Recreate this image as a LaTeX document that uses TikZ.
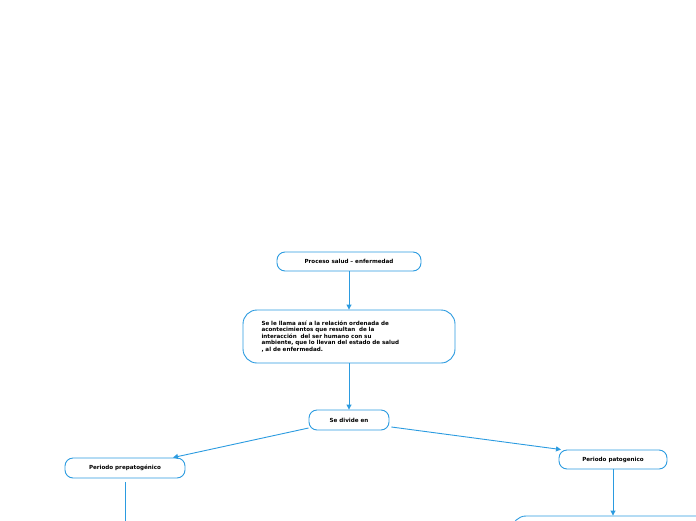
\documentclass[tikz,border=0pt]{standalone}
\usepackage{fontspec}
\setmainfont{DejaVu Sans}
\usetikzlibrary{arrows.meta}
\definecolor{bl}{HTML}{2B9BE0}
\tikzset{box/.style={draw=bl,line width=0.9pt,rounded corners=8pt,fill=white,font=\bfseries\fontsize{5.6}{6.6}\selectfont,inner sep=0pt},
con/.style={draw=bl,line width=0.9pt,-{Triangle[length=5pt,width=5pt]}}}
\begin{document}
\begin{tikzpicture}[x=1pt,y=-1pt]
\useasboundingbox (0,0) rectangle (696,520);
\clip (0,0) rectangle (696,520);
\node[box,minimum width=144pt,minimum height=19pt] (a) at (349,261.5) {Proceso salud – enfermedad};
\node[box,minimum width=212pt,minimum height=53pt,rounded corners=14pt,align=left,text width=175pt] (b) at (349,336.5) {Se le llama así a la relación ordenada de\\ acontecimientos que resultan \ de la\\interacción \ del ser humano con su\\ambiente, que lo llevan del estado de salud\\, al de enfermedad.};
\node[box,minimum width=80pt,minimum height=20pt] (c) at (349,420) {Se divide en};
\node[box,minimum width=120pt,minimum height=20pt] (d) at (125,468) {Periodo prepatogénico};
\node[box,minimum width=108pt,minimum height=19pt] (e) at (613,459.5) {Periodo patogenico};
\node[box,minimum width=220pt,minimum height=40pt,rounded corners=14pt] (f) at (622,536) {};
\coordinate (g) at (125,540);
\draw[con] (a) -- (b);
\draw[con] (b) -- (c);
\draw[con] (c.west) ++(0,8) -- ([xshift=48pt]d.north);
\draw[con] (c.east) ++(2,7) -- ([xshift=-52pt]e.north);
\draw[con] (e) -- (e|-f.north);
\draw[draw=bl,line width=0.9pt] (d.south) ++(0,4) -- (g);
\end{tikzpicture}
\end{document}
